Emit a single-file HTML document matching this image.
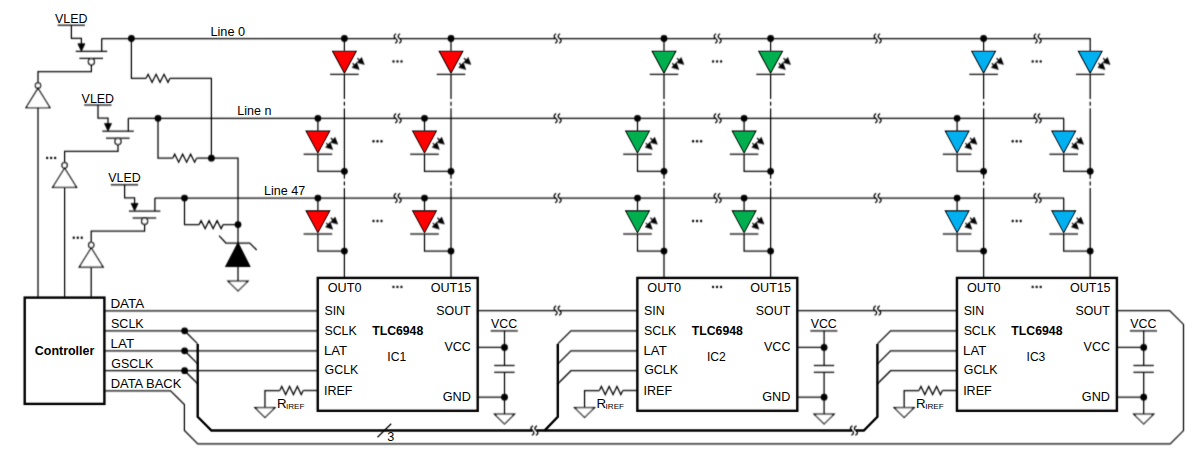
<!DOCTYPE html>
<html><head><meta charset="utf-8"><style>
html,body{margin:0;padding:0;background:#fff;}
body{width:1200px;height:458px;overflow:hidden;}
svg{display:block;}
text{font-family:"Liberation Sans",sans-serif;font-size:12px;fill:#000;stroke:none;}
</style></head><body>
<svg width="1200" height="458" viewBox="0 0 1200 458">
<defs><filter id="bl" x="0" y="0" width="1200" height="458" filterUnits="userSpaceOnUse"><feConvolveMatrix order="3" kernelMatrix="0.028 0.144 0.028 0.084 0.432 0.084 0.028 0.144 0.028" divisor="1" edgeMode="none" preserveAlpha="false"/></filter><filter id="bl2" x="0" y="0" width="1200" height="458" filterUnits="userSpaceOnUse"><feConvolveMatrix order="3" kernelMatrix="0.01 0.08 0.01 0.08 0.64 0.08 0.01 0.08 0.01" divisor="1" edgeMode="none" preserveAlpha="false"/></filter></defs>
<g filter="url(#bl)" stroke="#000" stroke-linecap="butt" stroke-linejoin="miter" fill="none">
<line x1="57.6" y1="25.2" x2="84.9" y2="25.2" stroke-width="1.25"/>
<polyline points="71.4,25.2 71.4,38.3 81.4,38.3 81.4,44.5" stroke-width="1.25" fill="none"/>
<polygon points="77.9,43.8 84.9,43.8 81.4,51.2" fill="#000" stroke-width="0.8"/>
<line x1="75.7" y1="51.4" x2="107.2" y2="51.4" stroke-width="1.25"/>
<line x1="101.7" y1="51.4" x2="101.7" y2="38.5" stroke-width="1.25"/>
<line x1="79.4" y1="58.4" x2="103" y2="58.4" stroke-width="1.25"/>
<circle cx="91.4" cy="61.7" r="3.1" fill="#fff" stroke-width="1.25"/>
<polyline points="91.4,64.8 91.4,71.6 38,71.6 38,82.8" stroke-width="1.25" fill="none"/>
<circle cx="38" cy="85.5" r="2.7" fill="#fff" stroke-width="1.25"/>
<polygon points="38,88.3 50,107.6 26,107.6" fill="#fff" stroke-width="1.25"/>
<line x1="38" y1="107.6" x2="38" y2="297.6" stroke-width="1.25"/>
<line x1="84.2" y1="105" x2="111.5" y2="105" stroke-width="1.25"/>
<polyline points="98,105 98,118.1 108,118.1 108,124.3" stroke-width="1.25" fill="none"/>
<polygon points="104.5,123.6 111.5,123.6 108,131" fill="#000" stroke-width="0.8"/>
<line x1="102.3" y1="131.2" x2="133.8" y2="131.2" stroke-width="1.25"/>
<line x1="128.3" y1="131.2" x2="128.3" y2="118.35" stroke-width="1.25"/>
<line x1="106" y1="138.2" x2="129.6" y2="138.2" stroke-width="1.25"/>
<circle cx="118" cy="141.5" r="3.1" fill="#fff" stroke-width="1.25"/>
<polyline points="118,144.6 118,151.4 64.6,151.4 64.6,162.6" stroke-width="1.25" fill="none"/>
<circle cx="64.6" cy="165.3" r="2.7" fill="#fff" stroke-width="1.25"/>
<polygon points="64.6,168.1 76.6,187.4 52.6,187.4" fill="#fff" stroke-width="1.25"/>
<line x1="64.6" y1="187.4" x2="64.6" y2="297.6" stroke-width="1.25"/>
<line x1="110.8" y1="184.8" x2="138.1" y2="184.8" stroke-width="1.25"/>
<polyline points="124.6,184.8 124.6,197.9 134.6,197.9 134.6,204.1" stroke-width="1.25" fill="none"/>
<polygon points="131.1,203.4 138.1,203.4 134.6,210.8" fill="#000" stroke-width="0.8"/>
<line x1="128.9" y1="211" x2="160.4" y2="211" stroke-width="1.25"/>
<line x1="154.9" y1="211" x2="154.9" y2="198.1" stroke-width="1.25"/>
<line x1="132.6" y1="218" x2="156.2" y2="218" stroke-width="1.25"/>
<circle cx="144.6" cy="221.3" r="3.1" fill="#fff" stroke-width="1.25"/>
<polyline points="144.6,224.4 144.6,231.2 91.2,231.2 91.2,242.4" stroke-width="1.25" fill="none"/>
<circle cx="91.2" cy="245.1" r="2.7" fill="#fff" stroke-width="1.25"/>
<polygon points="91.2,247.9 103.2,267.2 79.2,267.2" fill="#fff" stroke-width="1.25"/>
<line x1="91.2" y1="267.2" x2="91.2" y2="297.6" stroke-width="1.25"/>
<circle cx="47.15" cy="157.9" r="1.2" fill="#000" stroke="none"/>
<circle cx="51.15" cy="157.9" r="1.2" fill="#000" stroke="none"/>
<circle cx="55.15" cy="157.9" r="1.2" fill="#000" stroke="none"/>
<circle cx="73.75" cy="237.7" r="1.2" fill="#000" stroke="none"/>
<circle cx="77.75" cy="237.7" r="1.2" fill="#000" stroke="none"/>
<circle cx="81.75" cy="237.7" r="1.2" fill="#000" stroke="none"/>
<line x1="101.7" y1="38.5" x2="395.6" y2="38.5" stroke-width="1.25"/>
<line x1="399.6" y1="38.5" x2="555.6" y2="38.5" stroke-width="1.25"/>
<line x1="559.6" y1="38.5" x2="715.6" y2="38.5" stroke-width="1.25"/>
<line x1="719.6" y1="38.5" x2="875.6" y2="38.5" stroke-width="1.25"/>
<line x1="879.6" y1="38.5" x2="1035.6" y2="38.5" stroke-width="1.25"/>
<line x1="1039.6" y1="38.5" x2="1090.6" y2="38.5" stroke-width="1.25"/>
<path d="M396.2,33.8 C393,35.4 393.8,37.37 395.6,38.5 C397.4,39.63 398.2,41.6 395,43.2" stroke-width="1.25" fill="none"/>
<path d="M400.2,33.8 C397,35.4 397.8,37.37 399.6,38.5 C401.4,39.63 402.2,41.6 399,43.2" stroke-width="1.25" fill="none"/>
<path d="M556.2,33.8 C553,35.4 553.8,37.37 555.6,38.5 C557.4,39.63 558.2,41.6 555,43.2" stroke-width="1.25" fill="none"/>
<path d="M560.2,33.8 C557,35.4 557.8,37.37 559.6,38.5 C561.4,39.63 562.2,41.6 559,43.2" stroke-width="1.25" fill="none"/>
<path d="M716.2,33.8 C713,35.4 713.8,37.37 715.6,38.5 C717.4,39.63 718.2,41.6 715,43.2" stroke-width="1.25" fill="none"/>
<path d="M720.2,33.8 C717,35.4 717.8,37.37 719.6,38.5 C721.4,39.63 722.2,41.6 719,43.2" stroke-width="1.25" fill="none"/>
<path d="M876.2,33.8 C873,35.4 873.8,37.37 875.6,38.5 C877.4,39.63 878.2,41.6 875,43.2" stroke-width="1.25" fill="none"/>
<path d="M880.2,33.8 C877,35.4 877.8,37.37 879.6,38.5 C881.4,39.63 882.2,41.6 879,43.2" stroke-width="1.25" fill="none"/>
<path d="M1036.2,33.8 C1033,35.4 1033.8,37.37 1035.6,38.5 C1037.4,39.63 1038.2,41.6 1035,43.2" stroke-width="1.25" fill="none"/>
<path d="M1040.2,33.8 C1037,35.4 1037.8,37.37 1039.6,38.5 C1041.4,39.63 1042.2,41.6 1039,43.2" stroke-width="1.25" fill="none"/>
<line x1="128.3" y1="118.35" x2="395.6" y2="118.35" stroke-width="1.25"/>
<line x1="399.6" y1="118.35" x2="555.6" y2="118.35" stroke-width="1.25"/>
<line x1="559.6" y1="118.35" x2="715.6" y2="118.35" stroke-width="1.25"/>
<line x1="719.6" y1="118.35" x2="875.6" y2="118.35" stroke-width="1.25"/>
<line x1="879.6" y1="118.35" x2="1035.6" y2="118.35" stroke-width="1.25"/>
<line x1="1039.6" y1="118.35" x2="1064" y2="118.35" stroke-width="1.25"/>
<path d="M396.2,113.65 C393,115.25 393.8,117.22 395.6,118.35 C397.4,119.48 398.2,121.45 395,123.05" stroke-width="1.25" fill="none"/>
<path d="M400.2,113.65 C397,115.25 397.8,117.22 399.6,118.35 C401.4,119.48 402.2,121.45 399,123.05" stroke-width="1.25" fill="none"/>
<path d="M556.2,113.65 C553,115.25 553.8,117.22 555.6,118.35 C557.4,119.48 558.2,121.45 555,123.05" stroke-width="1.25" fill="none"/>
<path d="M560.2,113.65 C557,115.25 557.8,117.22 559.6,118.35 C561.4,119.48 562.2,121.45 559,123.05" stroke-width="1.25" fill="none"/>
<path d="M716.2,113.65 C713,115.25 713.8,117.22 715.6,118.35 C717.4,119.48 718.2,121.45 715,123.05" stroke-width="1.25" fill="none"/>
<path d="M720.2,113.65 C717,115.25 717.8,117.22 719.6,118.35 C721.4,119.48 722.2,121.45 719,123.05" stroke-width="1.25" fill="none"/>
<path d="M876.2,113.65 C873,115.25 873.8,117.22 875.6,118.35 C877.4,119.48 878.2,121.45 875,123.05" stroke-width="1.25" fill="none"/>
<path d="M880.2,113.65 C877,115.25 877.8,117.22 879.6,118.35 C881.4,119.48 882.2,121.45 879,123.05" stroke-width="1.25" fill="none"/>
<path d="M1036.2,113.65 C1033,115.25 1033.8,117.22 1035.6,118.35 C1037.4,119.48 1038.2,121.45 1035,123.05" stroke-width="1.25" fill="none"/>
<path d="M1040.2,113.65 C1037,115.25 1037.8,117.22 1039.6,118.35 C1041.4,119.48 1042.2,121.45 1039,123.05" stroke-width="1.25" fill="none"/>
<line x1="154.9" y1="198.1" x2="395.6" y2="198.1" stroke-width="1.25"/>
<line x1="399.6" y1="198.1" x2="555.6" y2="198.1" stroke-width="1.25"/>
<line x1="559.6" y1="198.1" x2="715.6" y2="198.1" stroke-width="1.25"/>
<line x1="719.6" y1="198.1" x2="875.6" y2="198.1" stroke-width="1.25"/>
<line x1="879.6" y1="198.1" x2="1035.6" y2="198.1" stroke-width="1.25"/>
<line x1="1039.6" y1="198.1" x2="1064" y2="198.1" stroke-width="1.25"/>
<path d="M396.2,193.4 C393,195 393.8,196.97 395.6,198.1 C397.4,199.23 398.2,201.2 395,202.8" stroke-width="1.25" fill="none"/>
<path d="M400.2,193.4 C397,195 397.8,196.97 399.6,198.1 C401.4,199.23 402.2,201.2 399,202.8" stroke-width="1.25" fill="none"/>
<path d="M556.2,193.4 C553,195 553.8,196.97 555.6,198.1 C557.4,199.23 558.2,201.2 555,202.8" stroke-width="1.25" fill="none"/>
<path d="M560.2,193.4 C557,195 557.8,196.97 559.6,198.1 C561.4,199.23 562.2,201.2 559,202.8" stroke-width="1.25" fill="none"/>
<path d="M716.2,193.4 C713,195 713.8,196.97 715.6,198.1 C717.4,199.23 718.2,201.2 715,202.8" stroke-width="1.25" fill="none"/>
<path d="M720.2,193.4 C717,195 717.8,196.97 719.6,198.1 C721.4,199.23 722.2,201.2 719,202.8" stroke-width="1.25" fill="none"/>
<path d="M876.2,193.4 C873,195 873.8,196.97 875.6,198.1 C877.4,199.23 878.2,201.2 875,202.8" stroke-width="1.25" fill="none"/>
<path d="M880.2,193.4 C877,195 877.8,196.97 879.6,198.1 C881.4,199.23 882.2,201.2 879,202.8" stroke-width="1.25" fill="none"/>
<path d="M1036.2,193.4 C1033,195 1033.8,196.97 1035.6,198.1 C1037.4,199.23 1038.2,201.2 1035,202.8" stroke-width="1.25" fill="none"/>
<path d="M1040.2,193.4 C1037,195 1037.8,196.97 1039.6,198.1 C1041.4,199.23 1042.2,201.2 1039,202.8" stroke-width="1.25" fill="none"/>
<circle cx="131.4" cy="38.5" r="3.4" fill="#000" stroke="none"/>
<polyline points="131.4,38.5 131.4,78.3 146.1,78.3" stroke-width="1.25" fill="none"/>
<polyline points="146.1,78.3 148.1,74.3 152.08,82.3 156.06,74.3 160.04,82.3 164.02,74.3 168,82.3 170,78.3" stroke-width="1.25" fill="none"/>
<polyline points="170,78.3 211.4,78.3 211.4,158.2" stroke-width="1.25" fill="none"/>
<circle cx="158" cy="118.35" r="3.4" fill="#000" stroke="none"/>
<polyline points="158,118.35 158,158.2 172.7,158.2" stroke-width="1.25" fill="none"/>
<polyline points="172.7,158.2 174.7,154.2 178.68,162.2 182.66,154.2 186.64,162.2 190.62,154.2 194.6,162.2 196.6,158.2" stroke-width="1.25" fill="none"/>
<polyline points="196.6,158.2 238,158.2 238,224.6" stroke-width="1.25" fill="none"/>
<circle cx="211.4" cy="158.2" r="3.4" fill="#000" stroke="none"/>
<circle cx="184.5" cy="198.1" r="3.4" fill="#000" stroke="none"/>
<polyline points="184.5,198.1 184.5,224.6 199.1,224.6" stroke-width="1.25" fill="none"/>
<polyline points="199.1,224.6 201.1,220.6 205.1,228.6 209.1,220.6 213.1,228.6 217.1,220.6 221.1,228.6 223.1,224.6" stroke-width="1.25" fill="none"/>
<polyline points="223.1,224.6 238,224.6" stroke-width="1.25" fill="none"/>
<circle cx="238" cy="224.6" r="3.4" fill="#000" stroke="none"/>
<line x1="238" y1="224.6" x2="238" y2="243" stroke-width="1.25"/>
<polyline points="219,235.6 225.9,243 249.8,243 256.7,250" stroke-width="1.25" fill="none"/>
<polygon points="238,243 249.8,266.4 225.9,266.4" fill="#000" stroke-width="1.25"/>
<line x1="238" y1="266.4" x2="238" y2="281.1" stroke-width="1.25"/>
<polygon points="228,281.1 248,281.1 238,290.9" fill="#fff" stroke-width="1.25"/>
<circle cx="344.4" cy="38.5" r="3.4" fill="#000" stroke="none"/>
<line x1="344.4" y1="38.5" x2="344.4" y2="51.3" stroke-width="1.25"/>
<line x1="330.1" y1="74.4" x2="358.7" y2="74.4" stroke-width="1.25"/>
<line x1="357.3" y1="58.2" x2="359.69" y2="60.35" stroke-width="1.2"/>
<polygon points="364.3,64.5 357.05,62.55 361.59,57.49" fill="#000" stroke-width="0.5"/>
<line x1="352.6" y1="63.3" x2="354.72" y2="65.32" stroke-width="1.2"/>
<polygon points="359.2,69.6 352.01,67.43 356.7,62.51" fill="#000" stroke-width="0.5"/>
<line x1="344.4" y1="74.4" x2="344.4" y2="98.95" stroke-width="1.25"/>
<line x1="344.4" y1="101.75" x2="344.4" y2="105.65" stroke-width="1.25"/>
<line x1="344.4" y1="108.35" x2="344.4" y2="178.7" stroke-width="1.25"/>
<line x1="344.4" y1="181.5" x2="344.4" y2="185.4" stroke-width="1.25"/>
<line x1="344.4" y1="188.1" x2="344.4" y2="277.9" stroke-width="1.25"/>
<circle cx="317.9" cy="118.35" r="3.4" fill="#000" stroke="none"/>
<line x1="317.9" y1="118.35" x2="317.9" y2="131.15" stroke-width="1.25"/>
<line x1="303.6" y1="154.25" x2="332.2" y2="154.25" stroke-width="1.25"/>
<line x1="330.8" y1="138.05" x2="333.19" y2="140.2" stroke-width="1.2"/>
<polygon points="337.8,144.35 330.55,142.4 335.09,137.34" fill="#000" stroke-width="0.5"/>
<line x1="326.1" y1="143.15" x2="328.22" y2="145.17" stroke-width="1.2"/>
<polygon points="332.7,149.45 325.51,147.28 330.2,142.36" fill="#000" stroke-width="0.5"/>
<polyline points="317.9,154.25 317.9,171.35 344.4,171.35" stroke-width="1.25" fill="none"/>
<circle cx="344.4" cy="171.35" r="3.4" fill="#000" stroke="none"/>
<circle cx="317.9" cy="198.1" r="3.4" fill="#000" stroke="none"/>
<line x1="317.9" y1="198.1" x2="317.9" y2="210.9" stroke-width="1.25"/>
<line x1="303.6" y1="234" x2="332.2" y2="234" stroke-width="1.25"/>
<line x1="330.8" y1="217.8" x2="333.19" y2="219.95" stroke-width="1.2"/>
<polygon points="337.8,224.1 330.55,222.15 335.09,217.09" fill="#000" stroke-width="0.5"/>
<line x1="326.1" y1="222.9" x2="328.22" y2="224.92" stroke-width="1.2"/>
<polygon points="332.7,229.2 325.51,227.03 330.2,222.11" fill="#000" stroke-width="0.5"/>
<polyline points="317.9,234 317.9,251.1 344.4,251.1" stroke-width="1.25" fill="none"/>
<circle cx="344.4" cy="251.1" r="3.4" fill="#000" stroke="none"/>
<circle cx="451" cy="38.5" r="3.4" fill="#000" stroke="none"/>
<line x1="451" y1="38.5" x2="451" y2="51.3" stroke-width="1.25"/>
<line x1="436.7" y1="74.4" x2="465.3" y2="74.4" stroke-width="1.25"/>
<line x1="463.9" y1="58.2" x2="466.29" y2="60.35" stroke-width="1.2"/>
<polygon points="470.9,64.5 463.65,62.55 468.19,57.49" fill="#000" stroke-width="0.5"/>
<line x1="459.2" y1="63.3" x2="461.32" y2="65.32" stroke-width="1.2"/>
<polygon points="465.8,69.6 458.61,67.43 463.3,62.51" fill="#000" stroke-width="0.5"/>
<line x1="451" y1="74.4" x2="451" y2="98.95" stroke-width="1.25"/>
<line x1="451" y1="101.75" x2="451" y2="105.65" stroke-width="1.25"/>
<line x1="451" y1="108.35" x2="451" y2="178.7" stroke-width="1.25"/>
<line x1="451" y1="181.5" x2="451" y2="185.4" stroke-width="1.25"/>
<line x1="451" y1="188.1" x2="451" y2="277.9" stroke-width="1.25"/>
<circle cx="424.5" cy="118.35" r="3.4" fill="#000" stroke="none"/>
<line x1="424.5" y1="118.35" x2="424.5" y2="131.15" stroke-width="1.25"/>
<line x1="410.2" y1="154.25" x2="438.8" y2="154.25" stroke-width="1.25"/>
<line x1="437.4" y1="138.05" x2="439.79" y2="140.2" stroke-width="1.2"/>
<polygon points="444.4,144.35 437.15,142.4 441.69,137.34" fill="#000" stroke-width="0.5"/>
<line x1="432.7" y1="143.15" x2="434.82" y2="145.17" stroke-width="1.2"/>
<polygon points="439.3,149.45 432.11,147.28 436.8,142.36" fill="#000" stroke-width="0.5"/>
<polyline points="424.5,154.25 424.5,171.35 451,171.35" stroke-width="1.25" fill="none"/>
<circle cx="451" cy="171.35" r="3.4" fill="#000" stroke="none"/>
<circle cx="424.5" cy="198.1" r="3.4" fill="#000" stroke="none"/>
<line x1="424.5" y1="198.1" x2="424.5" y2="210.9" stroke-width="1.25"/>
<line x1="410.2" y1="234" x2="438.8" y2="234" stroke-width="1.25"/>
<line x1="437.4" y1="217.8" x2="439.79" y2="219.95" stroke-width="1.2"/>
<polygon points="444.4,224.1 437.15,222.15 441.69,217.09" fill="#000" stroke-width="0.5"/>
<line x1="432.7" y1="222.9" x2="434.82" y2="224.92" stroke-width="1.2"/>
<polygon points="439.3,229.2 432.11,227.03 436.8,222.11" fill="#000" stroke-width="0.5"/>
<polyline points="424.5,234 424.5,251.1 451,251.1" stroke-width="1.25" fill="none"/>
<circle cx="451" cy="251.1" r="3.4" fill="#000" stroke="none"/>
<circle cx="393.5" cy="61.4" r="1.2" fill="#000" stroke="none"/>
<circle cx="397.5" cy="61.4" r="1.2" fill="#000" stroke="none"/>
<circle cx="401.5" cy="61.4" r="1.2" fill="#000" stroke="none"/>
<circle cx="373.5" cy="141.2" r="1.2" fill="#000" stroke="none"/>
<circle cx="377.5" cy="141.2" r="1.2" fill="#000" stroke="none"/>
<circle cx="381.5" cy="141.2" r="1.2" fill="#000" stroke="none"/>
<circle cx="373.5" cy="221" r="1.2" fill="#000" stroke="none"/>
<circle cx="377.5" cy="221" r="1.2" fill="#000" stroke="none"/>
<circle cx="381.5" cy="221" r="1.2" fill="#000" stroke="none"/>
<circle cx="664" cy="38.5" r="3.4" fill="#000" stroke="none"/>
<line x1="664" y1="38.5" x2="664" y2="51.3" stroke-width="1.25"/>
<line x1="649.7" y1="74.4" x2="678.3" y2="74.4" stroke-width="1.25"/>
<line x1="676.9" y1="58.2" x2="679.29" y2="60.35" stroke-width="1.2"/>
<polygon points="683.9,64.5 676.65,62.55 681.19,57.49" fill="#000" stroke-width="0.5"/>
<line x1="672.2" y1="63.3" x2="674.32" y2="65.32" stroke-width="1.2"/>
<polygon points="678.8,69.6 671.61,67.43 676.3,62.51" fill="#000" stroke-width="0.5"/>
<line x1="664" y1="74.4" x2="664" y2="98.95" stroke-width="1.25"/>
<line x1="664" y1="101.75" x2="664" y2="105.65" stroke-width="1.25"/>
<line x1="664" y1="108.35" x2="664" y2="178.7" stroke-width="1.25"/>
<line x1="664" y1="181.5" x2="664" y2="185.4" stroke-width="1.25"/>
<line x1="664" y1="188.1" x2="664" y2="277.9" stroke-width="1.25"/>
<circle cx="637.5" cy="118.35" r="3.4" fill="#000" stroke="none"/>
<line x1="637.5" y1="118.35" x2="637.5" y2="131.15" stroke-width="1.25"/>
<line x1="623.2" y1="154.25" x2="651.8" y2="154.25" stroke-width="1.25"/>
<line x1="650.4" y1="138.05" x2="652.79" y2="140.2" stroke-width="1.2"/>
<polygon points="657.4,144.35 650.15,142.4 654.69,137.34" fill="#000" stroke-width="0.5"/>
<line x1="645.7" y1="143.15" x2="647.82" y2="145.17" stroke-width="1.2"/>
<polygon points="652.3,149.45 645.11,147.28 649.8,142.36" fill="#000" stroke-width="0.5"/>
<polyline points="637.5,154.25 637.5,171.35 664,171.35" stroke-width="1.25" fill="none"/>
<circle cx="664" cy="171.35" r="3.4" fill="#000" stroke="none"/>
<circle cx="637.5" cy="198.1" r="3.4" fill="#000" stroke="none"/>
<line x1="637.5" y1="198.1" x2="637.5" y2="210.9" stroke-width="1.25"/>
<line x1="623.2" y1="234" x2="651.8" y2="234" stroke-width="1.25"/>
<line x1="650.4" y1="217.8" x2="652.79" y2="219.95" stroke-width="1.2"/>
<polygon points="657.4,224.1 650.15,222.15 654.69,217.09" fill="#000" stroke-width="0.5"/>
<line x1="645.7" y1="222.9" x2="647.82" y2="224.92" stroke-width="1.2"/>
<polygon points="652.3,229.2 645.11,227.03 649.8,222.11" fill="#000" stroke-width="0.5"/>
<polyline points="637.5,234 637.5,251.1 664,251.1" stroke-width="1.25" fill="none"/>
<circle cx="664" cy="251.1" r="3.4" fill="#000" stroke="none"/>
<circle cx="770.6" cy="38.5" r="3.4" fill="#000" stroke="none"/>
<line x1="770.6" y1="38.5" x2="770.6" y2="51.3" stroke-width="1.25"/>
<line x1="756.3" y1="74.4" x2="784.9" y2="74.4" stroke-width="1.25"/>
<line x1="783.5" y1="58.2" x2="785.89" y2="60.35" stroke-width="1.2"/>
<polygon points="790.5,64.5 783.25,62.55 787.79,57.49" fill="#000" stroke-width="0.5"/>
<line x1="778.8" y1="63.3" x2="780.92" y2="65.32" stroke-width="1.2"/>
<polygon points="785.4,69.6 778.21,67.43 782.9,62.51" fill="#000" stroke-width="0.5"/>
<line x1="770.6" y1="74.4" x2="770.6" y2="98.95" stroke-width="1.25"/>
<line x1="770.6" y1="101.75" x2="770.6" y2="105.65" stroke-width="1.25"/>
<line x1="770.6" y1="108.35" x2="770.6" y2="178.7" stroke-width="1.25"/>
<line x1="770.6" y1="181.5" x2="770.6" y2="185.4" stroke-width="1.25"/>
<line x1="770.6" y1="188.1" x2="770.6" y2="277.9" stroke-width="1.25"/>
<circle cx="744.1" cy="118.35" r="3.4" fill="#000" stroke="none"/>
<line x1="744.1" y1="118.35" x2="744.1" y2="131.15" stroke-width="1.25"/>
<line x1="729.8" y1="154.25" x2="758.4" y2="154.25" stroke-width="1.25"/>
<line x1="757" y1="138.05" x2="759.39" y2="140.2" stroke-width="1.2"/>
<polygon points="764,144.35 756.75,142.4 761.29,137.34" fill="#000" stroke-width="0.5"/>
<line x1="752.3" y1="143.15" x2="754.42" y2="145.17" stroke-width="1.2"/>
<polygon points="758.9,149.45 751.71,147.28 756.4,142.36" fill="#000" stroke-width="0.5"/>
<polyline points="744.1,154.25 744.1,171.35 770.6,171.35" stroke-width="1.25" fill="none"/>
<circle cx="770.6" cy="171.35" r="3.4" fill="#000" stroke="none"/>
<circle cx="744.1" cy="198.1" r="3.4" fill="#000" stroke="none"/>
<line x1="744.1" y1="198.1" x2="744.1" y2="210.9" stroke-width="1.25"/>
<line x1="729.8" y1="234" x2="758.4" y2="234" stroke-width="1.25"/>
<line x1="757" y1="217.8" x2="759.39" y2="219.95" stroke-width="1.2"/>
<polygon points="764,224.1 756.75,222.15 761.29,217.09" fill="#000" stroke-width="0.5"/>
<line x1="752.3" y1="222.9" x2="754.42" y2="224.92" stroke-width="1.2"/>
<polygon points="758.9,229.2 751.71,227.03 756.4,222.11" fill="#000" stroke-width="0.5"/>
<polyline points="744.1,234 744.1,251.1 770.6,251.1" stroke-width="1.25" fill="none"/>
<circle cx="770.6" cy="251.1" r="3.4" fill="#000" stroke="none"/>
<circle cx="713.1" cy="61.4" r="1.2" fill="#000" stroke="none"/>
<circle cx="717.1" cy="61.4" r="1.2" fill="#000" stroke="none"/>
<circle cx="721.1" cy="61.4" r="1.2" fill="#000" stroke="none"/>
<circle cx="693.1" cy="141.2" r="1.2" fill="#000" stroke="none"/>
<circle cx="697.1" cy="141.2" r="1.2" fill="#000" stroke="none"/>
<circle cx="701.1" cy="141.2" r="1.2" fill="#000" stroke="none"/>
<circle cx="693.1" cy="221" r="1.2" fill="#000" stroke="none"/>
<circle cx="697.1" cy="221" r="1.2" fill="#000" stroke="none"/>
<circle cx="701.1" cy="221" r="1.2" fill="#000" stroke="none"/>
<circle cx="983.6" cy="38.5" r="3.4" fill="#000" stroke="none"/>
<line x1="983.6" y1="38.5" x2="983.6" y2="51.3" stroke-width="1.25"/>
<line x1="969.3" y1="74.4" x2="997.9" y2="74.4" stroke-width="1.25"/>
<line x1="996.5" y1="58.2" x2="998.89" y2="60.35" stroke-width="1.2"/>
<polygon points="1003.5,64.5 996.25,62.55 1000.79,57.49" fill="#000" stroke-width="0.5"/>
<line x1="991.8" y1="63.3" x2="993.92" y2="65.32" stroke-width="1.2"/>
<polygon points="998.4,69.6 991.21,67.43 995.9,62.51" fill="#000" stroke-width="0.5"/>
<line x1="983.6" y1="74.4" x2="983.6" y2="98.95" stroke-width="1.25"/>
<line x1="983.6" y1="101.75" x2="983.6" y2="105.65" stroke-width="1.25"/>
<line x1="983.6" y1="108.35" x2="983.6" y2="178.7" stroke-width="1.25"/>
<line x1="983.6" y1="181.5" x2="983.6" y2="185.4" stroke-width="1.25"/>
<line x1="983.6" y1="188.1" x2="983.6" y2="277.9" stroke-width="1.25"/>
<circle cx="957.1" cy="118.35" r="3.4" fill="#000" stroke="none"/>
<line x1="957.1" y1="118.35" x2="957.1" y2="131.15" stroke-width="1.25"/>
<line x1="942.8" y1="154.25" x2="971.4" y2="154.25" stroke-width="1.25"/>
<line x1="970" y1="138.05" x2="972.39" y2="140.2" stroke-width="1.2"/>
<polygon points="977,144.35 969.75,142.4 974.29,137.34" fill="#000" stroke-width="0.5"/>
<line x1="965.3" y1="143.15" x2="967.42" y2="145.17" stroke-width="1.2"/>
<polygon points="971.9,149.45 964.71,147.28 969.4,142.36" fill="#000" stroke-width="0.5"/>
<polyline points="957.1,154.25 957.1,171.35 983.6,171.35" stroke-width="1.25" fill="none"/>
<circle cx="983.6" cy="171.35" r="3.4" fill="#000" stroke="none"/>
<circle cx="957.1" cy="198.1" r="3.4" fill="#000" stroke="none"/>
<line x1="957.1" y1="198.1" x2="957.1" y2="210.9" stroke-width="1.25"/>
<line x1="942.8" y1="234" x2="971.4" y2="234" stroke-width="1.25"/>
<line x1="970" y1="217.8" x2="972.39" y2="219.95" stroke-width="1.2"/>
<polygon points="977,224.1 969.75,222.15 974.29,217.09" fill="#000" stroke-width="0.5"/>
<line x1="965.3" y1="222.9" x2="967.42" y2="224.92" stroke-width="1.2"/>
<polygon points="971.9,229.2 964.71,227.03 969.4,222.11" fill="#000" stroke-width="0.5"/>
<polyline points="957.1,234 957.1,251.1 983.6,251.1" stroke-width="1.25" fill="none"/>
<circle cx="983.6" cy="251.1" r="3.4" fill="#000" stroke="none"/>
<polyline points="1090.1,38.5 1090.2,38.5" stroke-width="1.25" fill="none"/>
<line x1="1090.2" y1="38.5" x2="1090.2" y2="51.3" stroke-width="1.25"/>
<line x1="1075.9" y1="74.4" x2="1104.5" y2="74.4" stroke-width="1.25"/>
<line x1="1103.1" y1="58.2" x2="1105.49" y2="60.35" stroke-width="1.2"/>
<polygon points="1110.1,64.5 1102.85,62.55 1107.39,57.49" fill="#000" stroke-width="0.5"/>
<line x1="1098.4" y1="63.3" x2="1100.52" y2="65.32" stroke-width="1.2"/>
<polygon points="1105,69.6 1097.81,67.43 1102.5,62.51" fill="#000" stroke-width="0.5"/>
<line x1="1090.2" y1="74.4" x2="1090.2" y2="98.95" stroke-width="1.25"/>
<line x1="1090.2" y1="101.75" x2="1090.2" y2="105.65" stroke-width="1.25"/>
<line x1="1090.2" y1="108.35" x2="1090.2" y2="178.7" stroke-width="1.25"/>
<line x1="1090.2" y1="181.5" x2="1090.2" y2="185.4" stroke-width="1.25"/>
<line x1="1090.2" y1="188.1" x2="1090.2" y2="277.9" stroke-width="1.25"/>
<line x1="1063.7" y1="118.35" x2="1063.7" y2="131.15" stroke-width="1.25"/>
<line x1="1049.4" y1="154.25" x2="1078" y2="154.25" stroke-width="1.25"/>
<line x1="1076.6" y1="138.05" x2="1078.99" y2="140.2" stroke-width="1.2"/>
<polygon points="1083.6,144.35 1076.35,142.4 1080.89,137.34" fill="#000" stroke-width="0.5"/>
<line x1="1071.9" y1="143.15" x2="1074.02" y2="145.17" stroke-width="1.2"/>
<polygon points="1078.5,149.45 1071.31,147.28 1076,142.36" fill="#000" stroke-width="0.5"/>
<polyline points="1063.7,154.25 1063.7,171.35 1090.2,171.35" stroke-width="1.25" fill="none"/>
<circle cx="1090.2" cy="171.35" r="3.4" fill="#000" stroke="none"/>
<line x1="1063.7" y1="198.1" x2="1063.7" y2="210.9" stroke-width="1.25"/>
<line x1="1049.4" y1="234" x2="1078" y2="234" stroke-width="1.25"/>
<line x1="1076.6" y1="217.8" x2="1078.99" y2="219.95" stroke-width="1.2"/>
<polygon points="1083.6,224.1 1076.35,222.15 1080.89,217.09" fill="#000" stroke-width="0.5"/>
<line x1="1071.9" y1="222.9" x2="1074.02" y2="224.92" stroke-width="1.2"/>
<polygon points="1078.5,229.2 1071.31,227.03 1076,222.11" fill="#000" stroke-width="0.5"/>
<polyline points="1063.7,234 1063.7,251.1 1090.2,251.1" stroke-width="1.25" fill="none"/>
<circle cx="1090.2" cy="251.1" r="3.4" fill="#000" stroke="none"/>
<circle cx="1032.7" cy="61.4" r="1.2" fill="#000" stroke="none"/>
<circle cx="1036.7" cy="61.4" r="1.2" fill="#000" stroke="none"/>
<circle cx="1040.7" cy="61.4" r="1.2" fill="#000" stroke="none"/>
<circle cx="1012.7" cy="141.2" r="1.2" fill="#000" stroke="none"/>
<circle cx="1016.7" cy="141.2" r="1.2" fill="#000" stroke="none"/>
<circle cx="1020.7" cy="141.2" r="1.2" fill="#000" stroke="none"/>
<circle cx="1012.7" cy="221" r="1.2" fill="#000" stroke="none"/>
<circle cx="1016.7" cy="221" r="1.2" fill="#000" stroke="none"/>
<circle cx="1020.7" cy="221" r="1.2" fill="#000" stroke="none"/>
<line x1="104.4" y1="310.9" x2="317.5" y2="310.9" stroke-width="1.25"/>
<line x1="104.4" y1="330.8" x2="317.5" y2="330.8" stroke-width="1.25"/>
<line x1="104.4" y1="350.8" x2="317.5" y2="350.8" stroke-width="1.25"/>
<line x1="104.4" y1="370.7" x2="317.5" y2="370.7" stroke-width="1.25"/>
<circle cx="184.6" cy="330.8" r="3.4" fill="#000" stroke="none"/>
<line x1="184.6" y1="330.8" x2="197.7" y2="343.9" stroke-width="1.25"/>
<circle cx="184.6" cy="350.8" r="3.4" fill="#000" stroke="none"/>
<line x1="184.6" y1="350.8" x2="197.7" y2="363.9" stroke-width="1.25"/>
<circle cx="184.6" cy="370.7" r="3.4" fill="#000" stroke="none"/>
<line x1="184.6" y1="370.7" x2="197.7" y2="383.8" stroke-width="1.25"/>
<polyline points="104.4,390.9 170.6,390.9 184.4,404.6 184.4,430.5 197.8,443.9 1170.2,443.9 1183.5,430.6 1183.5,324.4 1169.6,310.6 1116.8,310.6" stroke-width="1.25" fill="none"/>
<path d="M533,425.85 C529.8,427.45 530.6,429.42 532.4,430.55 C534.2,431.68 535,433.65 531.8,435.25" stroke-width="1.3" fill="none"/>
<path d="M537,425.85 C533.8,427.45 534.6,429.42 536.4,430.55 C538.2,431.68 539,433.65 535.8,435.25" stroke-width="1.3" fill="none"/>
<path d="M852.5,425.85 C849.3,427.45 850.1,429.42 851.9,430.55 C853.7,431.68 854.5,433.65 851.3,435.25" stroke-width="1.3" fill="none"/>
<path d="M856.5,425.85 C853.3,427.45 854.1,429.42 855.9,430.55 C857.7,431.68 858.5,433.65 855.3,435.25" stroke-width="1.3" fill="none"/>
<circle cx="393.45" cy="286.9" r="1.2" fill="#000" stroke="none"/>
<circle cx="397.45" cy="286.9" r="1.2" fill="#000" stroke="none"/>
<circle cx="401.45" cy="286.9" r="1.2" fill="#000" stroke="none"/>
<line x1="490.7" y1="330.9" x2="517.8" y2="330.9" stroke-width="1.25"/>
<line x1="504.5" y1="330.9" x2="504.5" y2="365.5" stroke-width="1.25"/>
<line x1="477.7" y1="347.4" x2="504.5" y2="347.4" stroke-width="1.25"/>
<circle cx="504.5" cy="347.4" r="3.4" fill="#000" stroke="none"/>
<line x1="494.2" y1="365.5" x2="514.6" y2="365.5" stroke-width="1.25"/>
<line x1="494.2" y1="372.3" x2="514.6" y2="372.3" stroke-width="1.25"/>
<line x1="504.5" y1="372.3" x2="504.5" y2="414.1" stroke-width="1.25"/>
<line x1="477.7" y1="397.2" x2="504.5" y2="397.2" stroke-width="1.25"/>
<circle cx="504.5" cy="397.2" r="3.4" fill="#000" stroke="none"/>
<polygon points="494.5,414.1 514.5,414.1 504.5,423.9" fill="#fff" stroke-width="1.25"/>
<polyline points="317.75,390.5 303.25,390.5" stroke-width="1.25" fill="none"/>
<polyline points="279.75,390.5 281.75,386.5 285.65,394.5 289.55,386.5 293.45,394.5 297.35,386.5 301.25,394.5 303.25,390.5" stroke-width="1.25" fill="none"/>
<polyline points="279.75,390.5 264.95,390.5 264.95,407.6" stroke-width="1.25" fill="none"/>
<polygon points="254.95,407.6 274.95,407.6 264.95,417.4" fill="#fff" stroke-width="1.25"/>
<line x1="477.7" y1="310.6" x2="555.6" y2="310.6" stroke-width="1.25"/>
<line x1="559.6" y1="310.6" x2="637.35" y2="310.6" stroke-width="1.25"/>
<path d="M556.2,305.9 C553,307.5 553.8,309.47 555.6,310.6 C557.4,311.73 558.2,313.7 555,315.3" stroke-width="1.25" fill="none"/>
<path d="M560.2,305.9 C557,307.5 557.8,309.47 559.6,310.6 C561.4,311.73 562.2,313.7 559,315.3" stroke-width="1.25" fill="none"/>
<circle cx="713.05" cy="286.9" r="1.2" fill="#000" stroke="none"/>
<circle cx="717.05" cy="286.9" r="1.2" fill="#000" stroke="none"/>
<circle cx="721.05" cy="286.9" r="1.2" fill="#000" stroke="none"/>
<line x1="810.3" y1="330.9" x2="837.4" y2="330.9" stroke-width="1.25"/>
<line x1="824.1" y1="330.9" x2="824.1" y2="365.5" stroke-width="1.25"/>
<line x1="797.3" y1="347.4" x2="824.1" y2="347.4" stroke-width="1.25"/>
<circle cx="824.1" cy="347.4" r="3.4" fill="#000" stroke="none"/>
<line x1="813.8" y1="365.5" x2="834.2" y2="365.5" stroke-width="1.25"/>
<line x1="813.8" y1="372.3" x2="834.2" y2="372.3" stroke-width="1.25"/>
<line x1="824.1" y1="372.3" x2="824.1" y2="414.1" stroke-width="1.25"/>
<line x1="797.3" y1="397.2" x2="824.1" y2="397.2" stroke-width="1.25"/>
<circle cx="824.1" cy="397.2" r="3.4" fill="#000" stroke="none"/>
<polygon points="814.1,414.1 834.1,414.1 824.1,423.9" fill="#fff" stroke-width="1.25"/>
<polyline points="637.35,390.5 622.85,390.5" stroke-width="1.25" fill="none"/>
<polyline points="599.35,390.5 601.35,386.5 605.25,394.5 609.15,386.5 613.05,394.5 616.95,386.5 620.85,394.5 622.85,390.5" stroke-width="1.25" fill="none"/>
<polyline points="599.35,390.5 584.55,390.5 584.55,407.6" stroke-width="1.25" fill="none"/>
<polygon points="574.55,407.6 594.55,407.6 584.55,417.4" fill="#fff" stroke-width="1.25"/>
<line x1="797.3" y1="310.6" x2="875.2" y2="310.6" stroke-width="1.25"/>
<line x1="879.2" y1="310.6" x2="956.95" y2="310.6" stroke-width="1.25"/>
<path d="M875.8,305.9 C872.6,307.5 873.4,309.47 875.2,310.6 C877,311.73 877.8,313.7 874.6,315.3" stroke-width="1.25" fill="none"/>
<path d="M879.8,305.9 C876.6,307.5 877.4,309.47 879.2,310.6 C881,311.73 881.8,313.7 878.6,315.3" stroke-width="1.25" fill="none"/>
<polyline points="557.6,344.1 571,330.8 637.35,330.8" stroke-width="1.25" fill="none"/>
<polyline points="557.6,364.1 571,350.8 637.35,350.8" stroke-width="1.25" fill="none"/>
<polyline points="557.6,384 571,370.7 637.35,370.7" stroke-width="1.25" fill="none"/>
<circle cx="1032.65" cy="286.9" r="1.2" fill="#000" stroke="none"/>
<circle cx="1036.65" cy="286.9" r="1.2" fill="#000" stroke="none"/>
<circle cx="1040.65" cy="286.9" r="1.2" fill="#000" stroke="none"/>
<line x1="1129.9" y1="330.9" x2="1157" y2="330.9" stroke-width="1.25"/>
<line x1="1143.7" y1="330.9" x2="1143.7" y2="365.5" stroke-width="1.25"/>
<line x1="1116.9" y1="347.4" x2="1143.7" y2="347.4" stroke-width="1.25"/>
<circle cx="1143.7" cy="347.4" r="3.4" fill="#000" stroke="none"/>
<line x1="1133.4" y1="365.5" x2="1153.8" y2="365.5" stroke-width="1.25"/>
<line x1="1133.4" y1="372.3" x2="1153.8" y2="372.3" stroke-width="1.25"/>
<line x1="1143.7" y1="372.3" x2="1143.7" y2="414.1" stroke-width="1.25"/>
<line x1="1116.9" y1="397.2" x2="1143.7" y2="397.2" stroke-width="1.25"/>
<circle cx="1143.7" cy="397.2" r="3.4" fill="#000" stroke="none"/>
<polygon points="1133.7,414.1 1153.7,414.1 1143.7,423.9" fill="#fff" stroke-width="1.25"/>
<polyline points="956.95,390.5 942.45,390.5" stroke-width="1.25" fill="none"/>
<polyline points="918.95,390.5 920.95,386.5 924.85,394.5 928.75,386.5 932.65,394.5 936.55,386.5 940.45,394.5 942.45,390.5" stroke-width="1.25" fill="none"/>
<polyline points="918.95,390.5 904.15,390.5 904.15,407.6" stroke-width="1.25" fill="none"/>
<polygon points="894.15,407.6 914.15,407.6 904.15,417.4" fill="#fff" stroke-width="1.25"/>
<polyline points="877.2,344.1 890.6,330.8 956.95,330.8" stroke-width="1.25" fill="none"/>
<polyline points="877.2,364.1 890.6,350.8 956.95,350.8" stroke-width="1.25" fill="none"/>
<polyline points="877.2,384 890.6,370.7 956.95,370.7" stroke-width="1.25" fill="none"/>
</g>
<g filter="url(#bl2)" stroke="#000" fill="none">
<polygon points="332.6,51.3 356.2,51.3 344.4,73.1" fill="#ff0000" stroke-width="1.1"/>
<polygon points="306.1,131.15 329.7,131.15 317.9,152.95" fill="#ff0000" stroke-width="1.1"/>
<polygon points="306.1,210.9 329.7,210.9 317.9,232.7" fill="#ff0000" stroke-width="1.1"/>
<polygon points="439.2,51.3 462.8,51.3 451,73.1" fill="#ff0000" stroke-width="1.1"/>
<polygon points="412.7,131.15 436.3,131.15 424.5,152.95" fill="#ff0000" stroke-width="1.1"/>
<polygon points="412.7,210.9 436.3,210.9 424.5,232.7" fill="#ff0000" stroke-width="1.1"/>
<polygon points="652.2,51.3 675.8,51.3 664,73.1" fill="#00b050" stroke-width="1.1"/>
<polygon points="625.7,131.15 649.3,131.15 637.5,152.95" fill="#00b050" stroke-width="1.1"/>
<polygon points="625.7,210.9 649.3,210.9 637.5,232.7" fill="#00b050" stroke-width="1.1"/>
<polygon points="758.8,51.3 782.4,51.3 770.6,73.1" fill="#00b050" stroke-width="1.1"/>
<polygon points="732.3,131.15 755.9,131.15 744.1,152.95" fill="#00b050" stroke-width="1.1"/>
<polygon points="732.3,210.9 755.9,210.9 744.1,232.7" fill="#00b050" stroke-width="1.1"/>
<polygon points="971.8,51.3 995.4,51.3 983.6,73.1" fill="#00b0f0" stroke-width="1.1"/>
<polygon points="945.3,131.15 968.9,131.15 957.1,152.95" fill="#00b0f0" stroke-width="1.1"/>
<polygon points="945.3,210.9 968.9,210.9 957.1,232.7" fill="#00b0f0" stroke-width="1.1"/>
<polygon points="1078.4,51.3 1102,51.3 1090.2,73.1" fill="#00b0f0" stroke-width="1.1"/>
<polygon points="1051.9,131.15 1075.5,131.15 1063.7,152.95" fill="#00b0f0" stroke-width="1.1"/>
<polygon points="1051.9,210.9 1075.5,210.9 1063.7,232.7" fill="#00b0f0" stroke-width="1.1"/>
<rect x="24.7" y="297.6" width="79.7" height="106.3" fill="none" stroke-width="2.4"/>
<polyline points="197.7,344 197.7,416.8 211.45,430.55 532.4,430.55" stroke-width="2.4" fill="none"/>
<line x1="536.4" y1="430.55" x2="851.9" y2="430.55" stroke-width="2.4"/>
<polyline points="855.9,430.55 863.8,430.55 877.4,416.8 877.4,344" stroke-width="2.4" fill="none"/>
<polyline points="544.5,430.55 557.8,416.8 557.8,344" stroke-width="2.4" fill="none"/>
<line x1="377.5" y1="437.3" x2="391.2" y2="423.7" stroke-width="1.2"/>
<rect x="317.75" y="277.9" width="159.95" height="132.9" fill="none" stroke-width="2.4"/>
<rect x="637.35" y="277.9" width="159.95" height="132.9" fill="none" stroke-width="2.4"/>
<rect x="956.95" y="277.9" width="159.95" height="132.9" fill="none" stroke-width="2.4"/>
</g>
<g class="t">
<text transform="translate(55,22.7) scale(1.0366,1)">VLED</text>
<text transform="translate(81.6,102.5) scale(1.0366,1)">VLED</text>
<text transform="translate(108.2,182.3) scale(1.0366,1)">VLED</text>
<text transform="translate(210.4,35.6) scale(1.0612,1)">Line 0</text>
<text transform="translate(237.37,115) scale(1.0440,1)">Line n</text>
<text transform="translate(264.07,194.8) scale(1.0453,1)">Line 47</text>
<text transform="translate(34.75,354.5) scale(1.0402,1)" font-weight="bold">Controller</text>
<text transform="translate(110.39,308.15) scale(1.1228,1)">DATA</text>
<text transform="translate(111.03,327.8) scale(1.0436,1)">SCLK</text>
<text transform="translate(110.55,347.8) scale(1.1139,1)">LAT</text>
<text transform="translate(111.28,368.3) scale(1.0341,1)">GSCLK</text>
<text transform="translate(110.63,387.8) scale(1.0786,1)">DATA BACK</text>
<text transform="translate(387.31,441.1) scale(1.0549,1)">3</text>
<text transform="translate(327.71,291.8) scale(1.0545,1)">OUT0</text>
<text transform="translate(430.71,291.8) scale(1.0502,1)">OUT15</text>
<text transform="translate(324.43,314.9) scale(1.0311,1)">SIN</text>
<text transform="translate(324.43,334.5) scale(1.0306,1)">SCLK</text>
<text transform="translate(323.92,354.6) scale(1.0982,1)">LAT</text>
<text transform="translate(324.58,374.3) scale(1.0333,1)">GCLK</text>
<text transform="translate(323.94,394.9) scale(1.0452,1)">IREF</text>
<text transform="translate(372.16,334.9) scale(1.0220,1)" font-weight="bold">TLC6948</text>
<text transform="translate(387.33,361.4) scale(1.0103,1)">IC1</text>
<text transform="translate(436.23,315.1) scale(1.0338,1)">SOUT</text>
<text transform="translate(444.4,351.4) scale(1.0453,1)">VCC</text>
<text transform="translate(442.67,400.9) scale(1.0554,1)">GND</text>
<text transform="translate(491.05,327.9) scale(1.0312,1)">VCC</text>
<text transform="translate(276.9,407.9) scale(1.1107,1)">R</text>
<text transform="translate(285.94,409.4) scale(1.0199,1)" style="font-size:8px">IREF</text>
<text transform="translate(647.31,291.8) scale(1.0545,1)">OUT0</text>
<text transform="translate(750.31,291.8) scale(1.0502,1)">OUT15</text>
<text transform="translate(644.03,314.9) scale(1.0311,1)">SIN</text>
<text transform="translate(644.03,334.5) scale(1.0306,1)">SCLK</text>
<text transform="translate(643.52,354.6) scale(1.0982,1)">LAT</text>
<text transform="translate(644.18,374.3) scale(1.0333,1)">GCLK</text>
<text transform="translate(643.54,394.9) scale(1.0452,1)">IREF</text>
<text transform="translate(691.76,334.9) scale(1.0220,1)" font-weight="bold">TLC6948</text>
<text transform="translate(706.93,361.4) scale(1.0111,1)">IC2</text>
<text transform="translate(755.83,315.1) scale(1.0338,1)">SOUT</text>
<text transform="translate(764,351.4) scale(1.0453,1)">VCC</text>
<text transform="translate(762.27,400.9) scale(1.0554,1)">GND</text>
<text transform="translate(810.65,327.9) scale(1.0312,1)">VCC</text>
<text transform="translate(596.5,407.9) scale(1.1107,1)">R</text>
<text transform="translate(605.54,409.4) scale(1.0199,1)" style="font-size:8px">IREF</text>
<text transform="translate(966.91,291.8) scale(1.0545,1)">OUT0</text>
<text transform="translate(1069.91,291.8) scale(1.0502,1)">OUT15</text>
<text transform="translate(963.63,314.9) scale(1.0311,1)">SIN</text>
<text transform="translate(963.63,334.5) scale(1.0306,1)">SCLK</text>
<text transform="translate(963.12,354.6) scale(1.0982,1)">LAT</text>
<text transform="translate(963.78,374.3) scale(1.0333,1)">GCLK</text>
<text transform="translate(963.14,394.9) scale(1.0452,1)">IREF</text>
<text transform="translate(1011.36,334.9) scale(1.0220,1)" font-weight="bold">TLC6948</text>
<text transform="translate(1026.53,361.4) scale(1.0066,1)">IC3</text>
<text transform="translate(1075.43,315.1) scale(1.0338,1)">SOUT</text>
<text transform="translate(1083.6,351.4) scale(1.0453,1)">VCC</text>
<text transform="translate(1081.87,400.9) scale(1.0554,1)">GND</text>
<text transform="translate(1130.25,327.9) scale(1.0312,1)">VCC</text>
<text transform="translate(916.1,407.9) scale(1.1107,1)">R</text>
<text transform="translate(925.14,409.4) scale(1.0199,1)" style="font-size:8px">IREF</text>
</g>
</svg>
</body></html>
